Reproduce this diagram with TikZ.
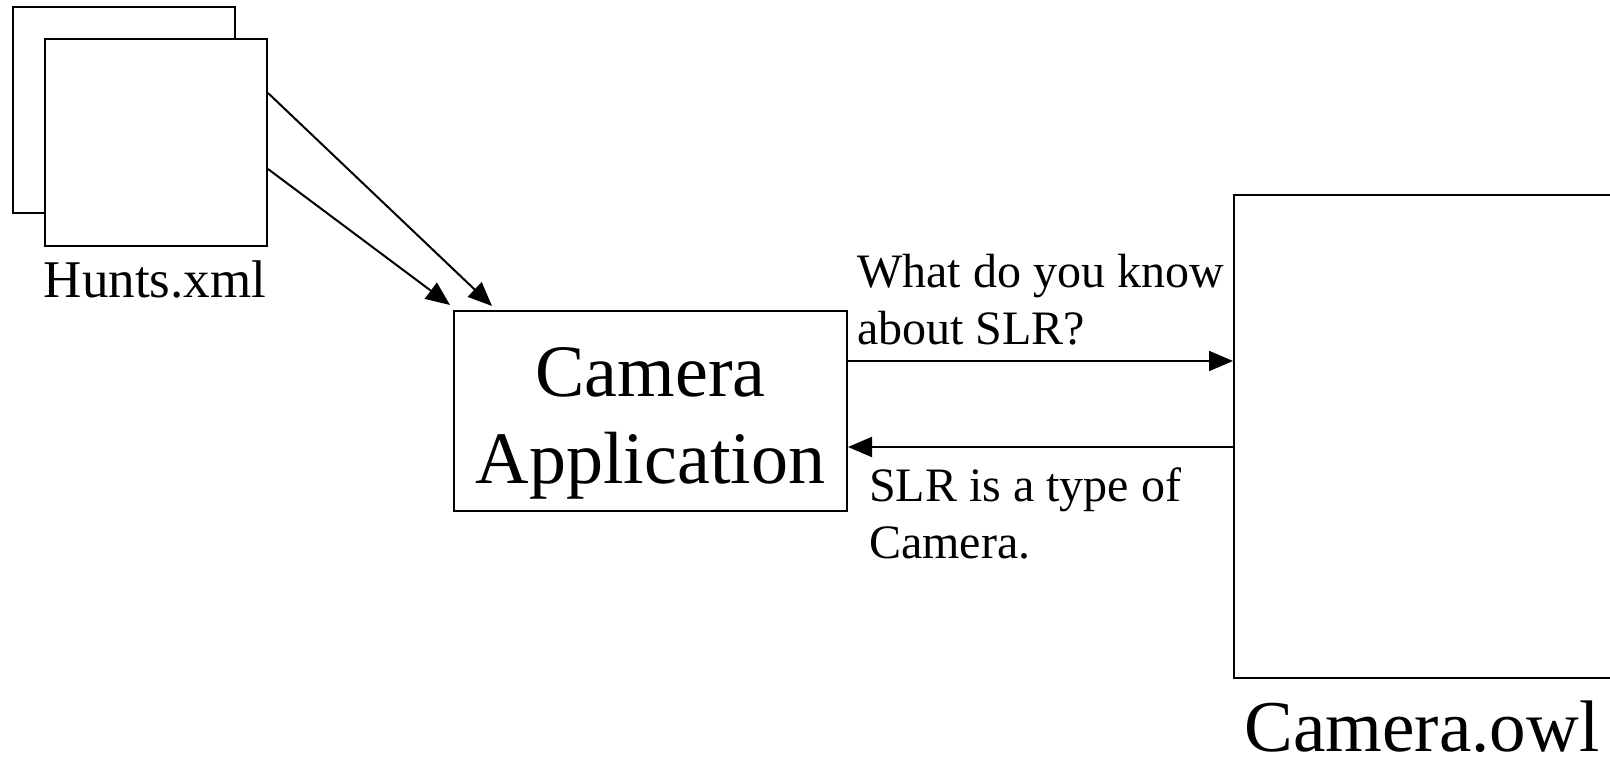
\documentclass[tikz,border=0pt]{standalone}
\usepackage{fontspec}
\setmainfont{Liberation Serif}
\usetikzlibrary{arrows.meta,calc}
\begin{document}
\begin{tikzpicture}[x=1pt,y=-1pt,
 box/.style={draw, line width=2pt, inner sep=0pt, fill=white},
 arr/.style={-{Triangle[length=24pt,width=20pt]}, line width=2pt},
 lbl/.style={inner sep=0pt, font=\fontsize{48}{57}\selectfont, align=left, anchor=north west},
 big/.style={inner sep=0pt, font=\fontsize{74}{87}\selectfont, align=center}]
\useasboundingbox (0,0) rectangle (1610,760);
\node[box, minimum width=222pt, minimum height=206pt, anchor=north west] (back) at (12,6) {};
\node[box, minimum width=222pt, minimum height=207pt, anchor=north west] (front) at (44,38) {};
\node[inner sep=0pt, anchor=base, font=\fontsize{53}{60}\selectfont] (hunts) at (155,297) {Hunts.xml};
\node[box, minimum width=393pt, minimum height=200pt, anchor=north west] (app) at (453,310) {};
\node[big, yshift=-12pt] (apptxt) at (app.center) {Camera\\Application};
\node[box, minimum width=420pt, minimum height=483pt, anchor=north west] (owl) at (1233,194) {};
\node[inner sep=0pt, anchor=base, font=\fontsize{73}{86}\selectfont] (owllbl) at (1422,751) {Camera.owl};
\coordinate (t1) at ($(app.north west)+(39,-4)$);
\coordinate (t2) at ($(app.north west)+(-3,-5)$);
\draw[arr] ($(front.north east)+(0,55)$) -- (t1);
\draw[arr] ($(front.north east)+(0,131)$) -- (t2);
\coordinate (qy) at (0,361);
\coordinate (ay) at (0,447);
\draw[arr] (app.east |- qy) -- (owl.west |- qy);
\draw[arr] (owl.west |- ay) -- (app.east |- ay);
\node[lbl] (ask) at (857,254) {What do you know\\about SLR?};
\node[lbl] (ans) at (869,467) {SLR is a type of\\Camera.};
\end{tikzpicture}
\end{document}
